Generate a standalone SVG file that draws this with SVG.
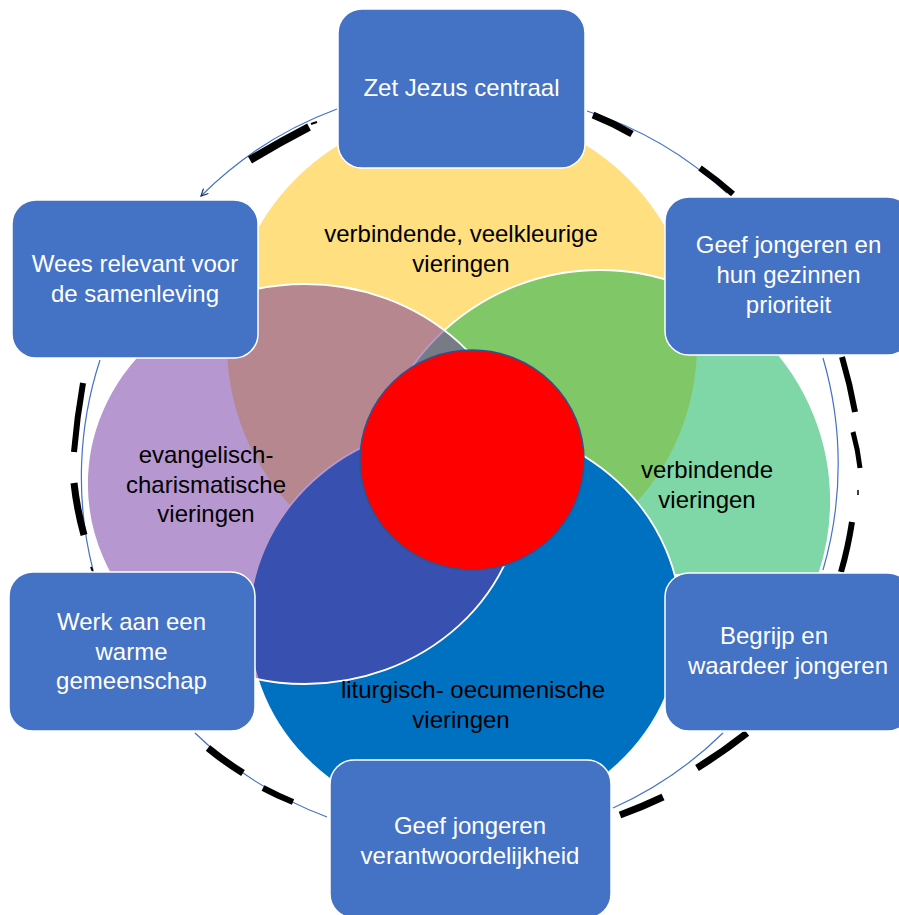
<svg xmlns="http://www.w3.org/2000/svg" width="899" height="915" viewBox="0 0 899 915">
<style>
.lbl{font-family:"Liberation Sans",Arial,sans-serif;font-size:24px;text-anchor:middle;fill:#000}
.btx{font-family:"Liberation Sans",Arial,sans-serif;font-size:24px;text-anchor:middle;fill:#fff}
.box{fill:#4472C4;stroke:#fff;stroke-width:1.5}
.arc{fill:none;stroke:#4472C4;stroke-width:1.2}
.dash{fill:none;stroke:#000;stroke-linecap:butt}
</style>
<defs>
<marker id="ah" markerWidth="10" markerHeight="10" refX="8" refY="4" orient="auto" markerUnits="userSpaceOnUse">
<path d="M1,0.5 L8,4 L1,7.5" fill="none" stroke="#1F2F5A" stroke-width="1.2"/>
</marker>
<clipPath id="greenClip">
<path d="M0,0 H899 V574 H664 V690 H0 Z"/>
</clipPath>
</defs>
<rect width="899" height="915" fill="#fff"/>

<g id="venn">
<circle id="yellow" cx="462" cy="345" r="235" fill="#FFC000" fill-opacity="0.5"/>
<circle id="green" cx="600" cy="501" r="231" fill="#00B050" fill-opacity="0.5" stroke="#fff" stroke-width="1.8" clip-path="url(#greenClip)"/>
<ellipse id="blue" cx="465" cy="623" rx="216" ry="200" fill="#0070C0" stroke="#fff" stroke-width="1.8"/>
<ellipse id="purple" cx="305" cy="484" rx="218" ry="200" fill="#7030A0" fill-opacity="0.5" stroke="#fff" stroke-width="1.8"/>
<ellipse id="center" cx="472" cy="460" rx="112" ry="110" fill="#FF0000" stroke="#2F528F" stroke-width="1.5"/>
</g>

<g id="venn-labels">
<text class="lbl" x="461" y="242">verbindende, veelkleurige</text>
<text class="lbl" x="461" y="272">vieringen</text>
<text class="lbl" x="206" y="463">evangelisch-</text>
<text class="lbl" x="206" y="493">charismatische</text>
<text class="lbl" x="206" y="522">vieringen</text>
<text class="lbl" x="707" y="478">verbindende</text>
<text class="lbl" x="707" y="508">vieringen</text>
<text class="lbl" x="473" y="698">liturgisch- oecumenische</text>
<text class="lbl" x="461" y="728">vieringen</text>
</g>

<g id="connectors">
<path class="arc" d="M337,109 A377,377 0 0 0 201,196" marker-end="url(#ah)"/>
<path class="arc" d="M727,193 A377,377 0 0 0 587,111"/>
<path class="arc" d="M823,570 A377,377 0 0 0 823,358"/>
<path class="arc" d="M613,808 A377,377 0 0 0 723,733"/>
<path class="arc" d="M195,733 A377,377 0 0 0 327,817"/>
<path class="arc" d="M100,360 A377,377 0 0 0 93,570"/>

<path class="dash" stroke-width="8" d="M250,160 Q280,142 309,127"/>
<path class="dash" stroke-width="2" d="M311,124 L317,122"/>
<path class="dash" stroke-width="7" d="M593,115 Q613,123 632,134"/>
<path class="dash" stroke-width="6" d="M700,168 Q717,180 733,194"/>
<path class="dash" stroke-width="6" d="M842,357 Q850,384 855,412"/>
<path class="dash" stroke-width="5" d="M853,432 Q858,450 860,468"/>
<path class="dash" stroke-width="1.5" d="M858,490 L858,495"/>
<path class="dash" stroke-width="6" d="M852,522 Q848,548 841,572"/>
<path class="dash" stroke-width="7" d="M747,733 Q723,752 697,768"/>
<path class="dash" stroke-width="7" d="M663,797 Q642,807 620,815"/>
<path class="dash" stroke-width="7" d="M208,748 Q225,762 243,773"/>
<path class="dash" stroke-width="6" d="M263,788 Q278,796 293,802"/>
<path class="dash" stroke-width="6" d="M83,383 Q77,417 74,452"/>
<path class="dash" stroke-width="7" d="M74,483 Q77,510 84,535"/>
<path class="dash" stroke-width="2" d="M91,567 L93,572"/>
</g>

<g id="box-zet">
<rect class="box" x="338" y="9" width="247" height="159" rx="24"/>
<text class="btx" x="461.5" y="96">Zet Jezus centraal</text>
</g>
<g id="box-wees">
<rect class="box" x="12" y="200" width="246" height="158" rx="24"/>
<text class="btx" x="135" y="272">Wees relevant voor</text>
<text class="btx" x="135" y="302">de samenleving</text>
</g>
<g id="box-geef">
<rect class="box" x="665" y="197" width="247" height="158" rx="24"/>
<text class="btx" x="788.5" y="253">Geef jongeren en</text>
<text class="btx" x="788.5" y="283">hun gezinnen</text>
<text class="btx" x="788.5" y="313">prioriteit</text>
</g>
<g id="box-begrijp">
<rect class="box" x="665" y="573" width="247" height="158" rx="24"/>
<text class="btx" x="774" y="644">Begrijp en</text>
<text class="btx" x="788" y="674">waardeer jongeren</text>
</g>
<g id="box-werk">
<rect class="box" x="9" y="572" width="246" height="159" rx="24"/>
<text class="btx" x="131.5" y="630">Werk aan een</text>
<text class="btx" x="131.5" y="660">warme</text>
<text class="btx" x="131.5" y="689">gemeenschap</text>
</g>
<g id="box-verantwoordelijkheid">
<rect class="box" x="330" y="760" width="281" height="158" rx="24"/>
<text class="btx" x="470" y="834">Geef jongeren</text>
<text class="btx" x="470" y="864">verantwoordelijkheid</text>
</g>
</svg>
